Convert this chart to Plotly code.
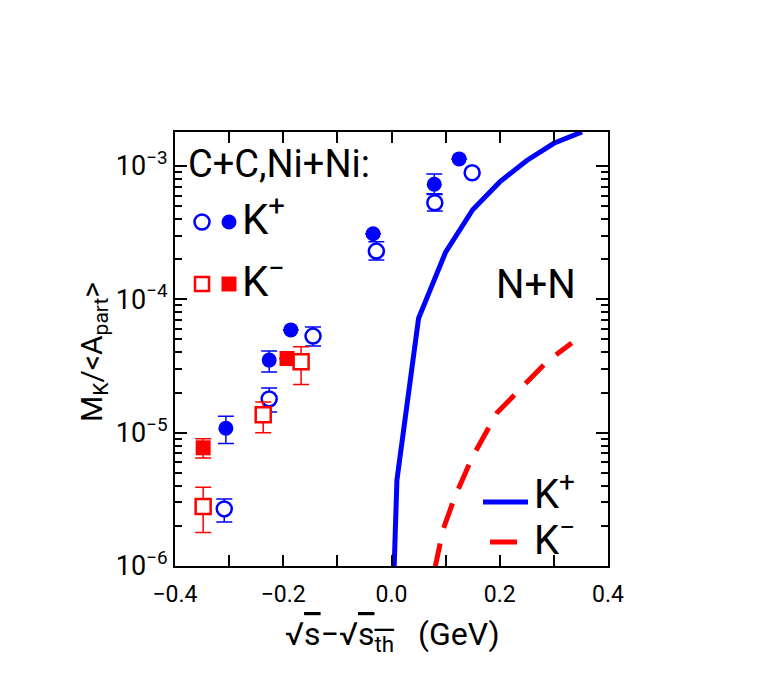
import plotly.graph_objects as go

# --- data ---
# K+ filled circles (Ni+Ni)
kp_fill_x = [-0.306, -0.226, -0.186, -0.034, 0.079, 0.125]
kp_fill_y = [1.08e-5, 3.5e-5, 5.9e-5, 3.1e-4, 7.3e-4, 1.13e-3]
kp_fill_hi = [1.33e-5, 4.1e-5, None, None, 8.7e-4, None]
kp_fill_lo = [8.3e-6, 2.85e-5, None, None, 6.2e-4, None]

# K+ open circles (C+C)
kp_open_x = [-0.309, -0.226, -0.145, -0.028, 0.080, 0.149]
kp_open_y = [2.68e-6, 1.79e-5, 5.3e-5, 2.3e-4, 5.3e-4, 8.9e-4]
kp_open_hi = [3.18e-6, 2.16e-5, 6.2e-5, 2.7e-4, 6.1e-4, None]
kp_open_lo = [2.14e-6, 1.43e-5, 4.47e-5, 1.97e-4, 4.6e-4, None]

# K- filled squares
km_fill_x = [-0.348, -0.193]
km_fill_y = [7.7e-6, 3.6e-5]
km_fill_hi = [9.0e-6, None]
km_fill_lo = [6.45e-6, None]

# K- open squares
km_open_x = [-0.348, -0.237, -0.167]
km_open_y = [2.8e-6, 1.36e-5, 3.4e-5]
km_open_hi = [3.9e-6, 1.7e-5, 4.4e-5]
km_open_lo = [1.78e-6, 1.0e-5, 2.3e-5]

# N+N curves
nn_kp_x = [0.005, 0.010, 0.050, 0.100, 0.150, 0.200, 0.250, 0.300, 0.352]
nn_kp_y = [1.0e-6, 4.4e-6, 7.2e-5, 2.26e-4, 4.7e-4, 7.6e-4, 1.1e-3, 1.48e-3, 1.8e-3]
nn_km_x = [0.080, 0.095, 0.117, 0.149, 0.195, 0.241, 0.287, 0.333]
nn_km_y = [0.95e-6, 1.86e-6, 3.3e-6, 6.5e-6, 1.41e-5, 2.2e-5, 3.4e-5, 4.7e-5]

x_ticks = [-0.4, -0.3, -0.2, -0.1, 0.0, 0.1, 0.2, 0.3, 0.4]
x_labels = ["\u22120.4", "", "\u22120.2", "", "0.0", "", "0.2", "", "0.4"]
y_ticks = [1e-6, 1e-5, 1e-4, 1e-3]
y_labels = ["10<sup>\u22126</sup>", "10<sup>\u22125</sup>", "10<sup>\u22124</sup>", "10<sup>\u22123</sup>"]

BLUE = '#0000ff'
RED = '#ff0000'
FONT = 'Roboto'

# page body adds an 8px offset, so the figure is placed 8px up/left
OFF = 8
W, H = 763 - OFF, 676 - OFF


def errs(y, hi, lo):
    plus = [(h - v) if h is not None else 0 for v, h in zip(y, hi)]
    minus = [(v - l) if l is not None else 0 for v, l in zip(y, lo)]
    return plus, minus


def err_dict(y, hi, lo, color):
    plus, minus = errs(y, hi, lo)
    return dict(type='data', symmetric=False, array=plus, arrayminus=minus,
                color=color, thickness=1.5, width=8)


fig = go.Figure()

fig.add_trace(go.Scatter(
    x=nn_kp_x, y=nn_kp_y, mode='lines',
    line=dict(color=BLUE, width=5), showlegend=False
))
fig.add_trace(go.Scatter(
    x=nn_km_x, y=nn_km_y, mode='lines',
    line=dict(color=RED, width=5, dash='26px,16px'), showlegend=False
))

fig.add_trace(go.Scatter(
    x=kp_fill_x, y=kp_fill_y, mode='markers',
    marker=dict(symbol='circle', size=15, color=BLUE, line=dict(width=0)),
    error_y=err_dict(kp_fill_y, kp_fill_hi, kp_fill_lo, BLUE),
    showlegend=False
))
fig.add_trace(go.Scatter(
    x=kp_open_x, y=kp_open_y, mode='markers',
    marker=dict(symbol='circle', size=15, color='white', line=dict(width=2.5, color=BLUE)),
    error_y=err_dict(kp_open_y, kp_open_hi, kp_open_lo, BLUE),
    showlegend=False
))
fig.add_trace(go.Scatter(
    x=km_fill_x, y=km_fill_y, mode='markers',
    marker=dict(symbol='square', size=15, color=RED, line=dict(width=0)),
    error_y=err_dict(km_fill_y, km_fill_hi, km_fill_lo, RED),
    showlegend=False
))
fig.add_trace(go.Scatter(
    x=km_open_x, y=km_open_y, mode='markers',
    marker=dict(symbol='square', size=15, color='white', line=dict(width=2.5, color=RED)),
    error_y=err_dict(km_open_y, km_open_hi, km_open_lo, RED),
    showlegend=False
))

# plot box in screen pixels: x 175..608, y 132..566
L, R, T, B = 175, 608, 132, 566


def px(x):
    return (x - L) / (R - L)


def py(y):
    return (B - y) / (B - T)


anns = [
    dict(text="C+C,Ni+Ni:", x=px(186), y=py(164), xanchor='left', size=38),
    dict(text="K<sup>+</sup>", x=px(240), y=py(216), xanchor='left', size=42),
    dict(text="K<sup>\u2212</sup>", x=px(240), y=py(278), xanchor='left', size=42),
    dict(text="N+N", x=px(494), y=py(284), xanchor='left', size=40),
    dict(text="K<sup>+</sup>", x=px(532), y=py(491), xanchor='left', size=40),
    dict(text="K<sup>\u2212</sup>", x=px(532), y=py(537), xanchor='left', size=40),
]
annotations = []
for a in anns:
    annotations.append(dict(text=a['text'], x=a['x'], y=a['y'], xref='paper', yref='paper',
                            xanchor=a['xanchor'], yanchor='middle', showarrow=False,
                            font=dict(family=FONT, size=a['size'], color='black')))

# axis titles
annotations.append(dict(text="M<sub>K</sub>/&lt;A<sub>part</sub>&gt;", textangle=-90,
                        x=px(93), y=py(352), xref='paper', yref='paper', showarrow=False,
                        xanchor='center', yanchor='middle',
                        font=dict(family=FONT, size=30, color='black')))
annotations.append(dict(text="\u221A<span style='text-decoration:overline'>s</span>\u2212"
                             "\u221A<span style='text-decoration:overline'>s<sub>th</sub></span>"
                             "   (GeV)",
                        x=px(392), y=py(636), xref='paper', yref='paper', showarrow=False,
                        xanchor='center', yanchor='middle',
                        font=dict(family=FONT, size=32, color='black')))

shapes = [
    # legend keys, upper left
    dict(type='circle', xref='paper', yref='paper', xsizemode='pixel', ysizemode='pixel',
         xanchor=px(202), yanchor=py(222), x0=-7.5, x1=7.5, y0=-7.5, y1=7.5,
         line=dict(color=BLUE, width=2.5), fillcolor='white'),
    dict(type='circle', xref='paper', yref='paper', xsizemode='pixel', ysizemode='pixel',
         xanchor=px(229), yanchor=py(222), x0=-7.5, x1=7.5, y0=-7.5, y1=7.5,
         line=dict(color=BLUE, width=0), fillcolor=BLUE),
    dict(type='rect', xref='paper', yref='paper', xsizemode='pixel', ysizemode='pixel',
         xanchor=px(202), yanchor=py(284), x0=-7, x1=7, y0=-7, y1=7,
         line=dict(color=RED, width=2.5), fillcolor='white'),
    dict(type='rect', xref='paper', yref='paper', xsizemode='pixel', ysizemode='pixel',
         xanchor=px(229), yanchor=py(284), x0=-7.5, x1=7.5, y0=-7.5, y1=7.5,
         line=dict(color=RED, width=0), fillcolor=RED),
    # legend keys, lower right
    dict(type='line', xref='paper', yref='paper', x0=px(483), x1=px(528), y0=py(502), y1=py(502),
         line=dict(color=BLUE, width=5)),
    dict(type='line', xref='paper', yref='paper', x0=px(490), x1=px(517), y0=py(542), y1=py(542),
         line=dict(color=RED, width=5)),
]

fig.update_layout(
    width=W, height=H,
    margin=dict(l=L - OFF, r=763 - R, t=T - OFF, b=676 - B),
    plot_bgcolor='white', paper_bgcolor='white',
    annotations=annotations, shapes=shapes,
    font=dict(family=FONT, color='black'),
)

fig.update_xaxes(
    range=[-0.4, 0.4], tickmode='array', tickvals=x_ticks, ticktext=x_labels,
    ticks='inside', ticklen=11, tickwidth=1.5, tickcolor='black',
    showline=True, linewidth=2, linecolor='black', mirror='allticks',
    showgrid=False, zeroline=False, ticklabelstandoff=6,
    tickfont=dict(family=FONT, size=23, color='black'),
)

minor_y = [k * 10.0 ** e for e in range(-6, -2) for k in range(2, 10)]
fig.update_yaxes(
    type='log', range=[-6, -2.745], tickmode='array', tickvals=y_ticks, ticktext=y_labels,
    ticks='inside', ticklen=12, tickwidth=1.5, tickcolor='black',
    minor=dict(tickmode='array', tickvals=minor_y, ticks='inside', ticklen=7,
               tickwidth=1.5, tickcolor='black', showgrid=False),
    showline=True, linewidth=2, linecolor='black', mirror='allticks',
    showgrid=False, zeroline=False,
    tickfont=dict(family=FONT, size=27, color='black'),
)

fig.write_html("out.html")
